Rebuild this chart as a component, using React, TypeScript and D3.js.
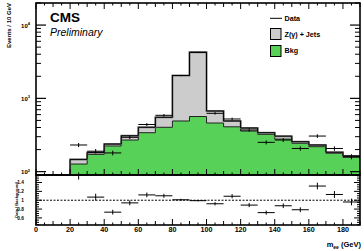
import React from 'react'
import * as d3 from 'd3'

// bins of 10 GeV, lower edges
const binLow = [0, 10, 20, 30, 40, 50, 60, 70, 80, 90, 100, 110, 120, 130, 140, 150, 160, 170, 180]
const bkg = [0, 0, 127, 172, 224, 270, 340, 403, 491, 565, 461, 409, 358, 323, 278, 244, 219, 178, 157]
const zjets = [0, 0, 20, 10, 14, 39, 63, 148, 1559, 3683, 211, 82, 36, 17, 27, 12, 12, 6, 7]
const dataVals = [null, null, 231, 190, 180, 294, 440, 587, 2050, 4250, 625, 523, 370, 251, 270, 207, 306, 207, 160]
const ratioVals = [null, null, 1.57, 1.07, 0.73, 0.94, 1.12, 1.1, 1.01, 0.99, 0.92, 1.09, 0.89, 0.72, 0.875, 0.785, 1.32, 1.13, 0.96]
const xTicks = [0, 20, 40, 60, 80, 100, 120, 140, 160, 180]
const ratioTicks = [1.4, 1.2, 1, 0.8, 0.6]
const decades = [2, 3, 4]

const W = 364
const H = 251
const FONT = 'Liberation Sans, Arial, Helvetica, sans-serif'
const GREEN = '#57d157'
const GREY = '#cccccc'

const x = d3.scaleLinear().domain([0, 190]).range([36, 360])
const y = d3.scaleLog().domain([90, 20000]).range([175, 3])
const yr = d3.scaleLinear().domain([0.44, 1.57]).range([225, 175])
const yc = (v: number) => y(Math.max(v, 90))

const App = () => {
  const rows = binLow.map((lo, i) => ({ lo, b: bkg[i], t: bkg[i] + zjets[i] }))
  const pts = [...rows, { ...rows[rows.length - 1], lo: 190 }]

  const areaB = d3.area<any>().x((d) => x(d.lo)).y0(175).y1((d) => yc(d.b)).curve(d3.curveStepAfter)
  const areaT = d3.area<any>().x((d) => x(d.lo)).y0(175).y1((d) => yc(d.t)).curve(d3.curveStepAfter)
  const lineB = d3.line<any>().x((d) => x(d.lo)).y((d) => yc(d.b)).curve(d3.curveStepAfter)
  const lineT = d3.line<any>().x((d) => x(d.lo)).y((d) => yc(d.t)).curve(d3.curveStepAfter)

  // x axis ticks every 5 GeV
  const xMinor = d3.range(0, 191, 5)
  const tickLen = (v: number) => (v % 20 === 0 ? 6 : v % 10 === 0 ? 4 : 2.5)

  const yMinor: number[] = []
  for (let e = 1; e <= 4; e++) for (let k = 2; k <= 9; k++) yMinor.push(k * Math.pow(10, e))
  const yMinorIn = yMinor.filter((v) => v >= 90 && v <= 20000)

  const rMinor = d3.range(0.45, 1.56, 0.05).map((v) => Math.round(v * 100) / 100)

  return (
    <svg width={W} height={H} style={{ position: 'absolute', left: 0, top: 0, background: '#fff' }} fontFamily={FONT}>
      <defs>
        <clipPath id="rclip">
          <rect x={36} y={175} width={324} height={50} />
        </clipPath>
      </defs>

      {/* stack */}
      <path d={areaT(pts) || ''} fill={GREY} />
      <path d={areaB(pts) || ''} fill={GREEN} />
      <path d={lineB(pts) || ''} fill="none" stroke="#222" strokeWidth={1} />
      <path d={lineT(pts) || ''} fill="none" stroke="#777" strokeWidth={2} />
      <path d={lineT(pts) || ''} fill="none" stroke="#000" strokeWidth={1} />

      {/* data */}
      {binLow.map((lo, i) => {
        const v = dataVals[i]
        if (v == null) return null
        const e = Math.sqrt(v)
        const cx = x(lo + 5)
        return (
          <g key={'d' + i} stroke="#000" strokeWidth={1}>
            <line x1={x(lo)} x2={x(lo + 10)} y1={y(v)} y2={y(v)} />
            <line x1={cx} x2={cx} y1={y(v - e)} y2={y(v + e)} />
          </g>
        )
      })}

      {/* main frame */}
      <rect x={36} y={3} width={324} height={172} fill="none" stroke="#000" strokeWidth={1.6} />
      {xMinor.map((v) => (
        <g key={'xt' + v} stroke="#000" strokeWidth={1}>
          <line x1={x(v)} x2={x(v)} y1={175} y2={175 - tickLen(v)} />
          <line x1={x(v)} x2={x(v)} y1={3} y2={3 + tickLen(v)} />
          <line x1={x(v)} x2={x(v)} y1={225} y2={225 - tickLen(v)} />
        </g>
      ))}
      {decades.map((e) => (
        <g key={'yd' + e}>
          <line x1={36} x2={46} y1={y(Math.pow(10, e))} y2={y(Math.pow(10, e))} stroke="#000" strokeWidth={1.2} />
          <line x1={360} x2={350} y1={y(Math.pow(10, e))} y2={y(Math.pow(10, e))} stroke="#000" strokeWidth={1.2} />
          <text x={30} y={y(Math.pow(10, e)) + 2.5} fontSize={6} fontWeight="bold" textAnchor="end">
            10<tspan dy={-2.5} fontSize={4}>{e}</tspan>
          </text>
        </g>
      ))}
      {yMinorIn.map((v) => (
        <g key={'ym' + v} stroke="#000" strokeWidth={1}>
          <line x1={36} x2={41} y1={y(v)} y2={y(v)} />
          <line x1={360} x2={355} y1={y(v)} y2={y(v)} />
        </g>
      ))}

      <text x={50} y={22} fontSize={13.5} fontWeight="bold">CMS</text>
      <text x={50} y={36} fontSize={10.5} fontStyle="italic">Preliminary</text>

      <text transform="translate(11,3) rotate(-90)" fontSize={6} fontWeight="bold" textAnchor="end">
        Events / 10 GeV
      </text>

      {/* legend */}
      <line x1={270} x2={282} y1={18.3} y2={18.3} stroke="#000" strokeWidth={1} />
      <text x={284.5} y={20.8} fontSize={7.2} fontWeight="bold">Data</text>
      <rect x={270.5} y={28.5} width={10.5} height={11} fill={GREY} stroke="#000" strokeWidth={1} />
      <text x={284.5} y={37.3} fontSize={7.2} fontWeight="bold">Z(γ) + Jets</text>
      <rect x={270.5} y={45.5} width={10.5} height={11} fill={GREEN} stroke="#000" strokeWidth={1} />
      <text x={284.5} y={53.3} fontSize={7.2} fontWeight="bold">Bkg</text>

      {/* ratio panel */}
      <line x1={36} x2={360} y1={yr(1)} y2={yr(1)} stroke="#000" strokeWidth={1} strokeDasharray="2,1.5" />
      <g clipPath="url(#rclip)">
        {binLow.map((lo, i) => {
          const r = ratioVals[i]
          const n = dataVals[i]
          if (r == null || n == null) return null
          const e = r / Math.sqrt(n)
          const cx = x(lo + 5)
          return (
            <g key={'r' + i} stroke="#000" strokeWidth={1}>
              <line x1={x(lo)} x2={x(lo + 10)} y1={yr(r)} y2={yr(r)} />
              <line x1={cx} x2={cx} y1={yr(r - e)} y2={yr(r + e)} />
            </g>
          )
        })}
      </g>
      <rect x={36} y={175} width={324} height={50} fill="none" stroke="#000" strokeWidth={1.6} />
      {rMinor.map((v) => {
        const major = Math.abs(Math.round(v * 5) - v * 5) < 1e-6
        return (
          <g key={'rm' + v} stroke="#000" strokeWidth={1}>
            <line x1={36} x2={36 + (major ? 6 : 3)} y1={yr(v)} y2={yr(v)} />
            <line x1={360} x2={360 - (major ? 6 : 3)} y1={yr(v)} y2={yr(v)} />
          </g>
        )
      })}
      {ratioTicks.map((v) => (
        <text key={'rl' + v} x={24} y={yr(v) + 1.7} fontSize={4.8} fontWeight="bold" textAnchor="end">
          {v}
        </text>
      ))}
      <text transform="translate(17.5,200) rotate(-90)" fontSize={4} fontWeight="bold" textAnchor="middle">
        Data / Background
      </text>

      {xTicks.map((v) => (
        <text key={'xl' + v} x={x(v)} y={232} fontSize={7.2} fontWeight="bold" textAnchor="middle">
          {v}
        </text>
      ))}
      <text x={361} y={247} fontSize={7.5} fontWeight="bold" textAnchor="end">
        m<tspan dy={1.8} fontSize={5}>ee</tspan>
        <tspan dy={-1.8}> (GeV)</tspan>
      </text>
    </svg>
  )
}

export default App
